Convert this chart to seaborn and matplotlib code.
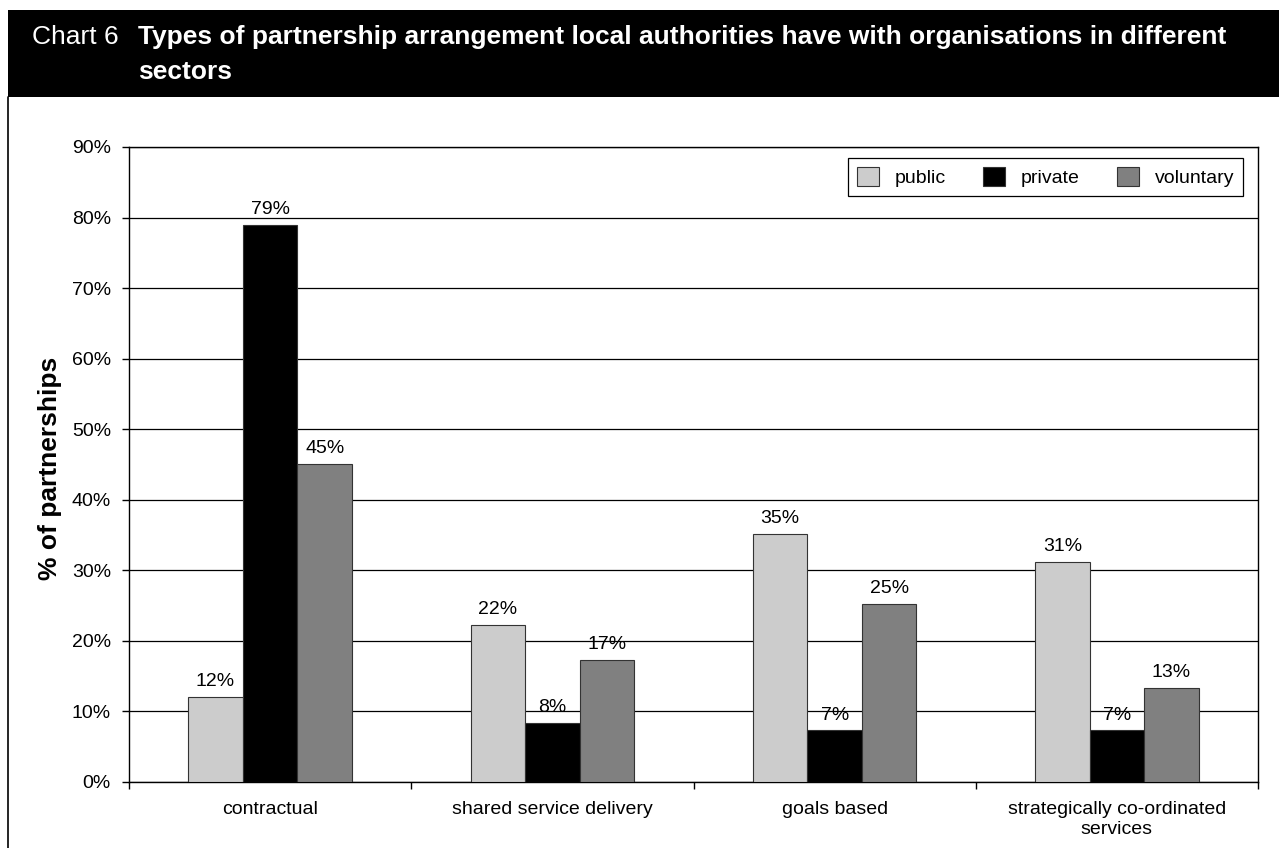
import matplotlib
matplotlib.use('Agg')
import matplotlib.pyplot as plt
import seaborn as sns
import pandas as pd
from matplotlib.patches import Rectangle, Patch
from matplotlib.lines import Line2D
from matplotlib.ticker import MultipleLocator, FixedLocator, PercentFormatter

categories = ['contractual', 'shared service delivery', 'goals based',
              'strategically co-ordinated\nservices']
sectors = ['public', 'private', 'voluntary']
public = [12.1, 22.3, 35.1, 31.2]
private = [79.0, 8.3, 7.3, 7.3]
voluntary = [45.1, 17.3, 25.2, 13.3]
colors = ['#cccccc', '#000000', '#808080']

rows = []
for s, vals in zip(sectors, [public, private, voluntary]):
    for c, v in zip(categories, vals):
        rows.append({'category': c, 'sector': s, 'value': v})
df = pd.DataFrame(rows)

sns.set_theme(style='white')
plt.rcParams['font.family'] = ['Liberation Sans', 'DejaVu Sans']

FS = 14

fig = plt.figure(figsize=(12.79, 8.48), dpi=100)
ax = fig.add_axes([129/1279, 66/848, 1129/1279, 635/848])

sns.barplot(data=df, x='category', y='value', hue='sector', order=categories,
            hue_order=sectors, palette=colors, width=0.58, edgecolor='#333333',
            linewidth=0.8, ax=ax, legend=False, zorder=3)

ax.set_ylim(0, 90)
ax.set_xlim(-0.5, len(categories) - 0.5)
ax.yaxis.set_major_locator(MultipleLocator(10))
ax.yaxis.set_major_formatter(PercentFormatter(decimals=0))
ax.grid(axis='y', color='black', linewidth=0.9, zorder=0)
ax.set_axisbelow(True)
for sp in ax.spines.values():
    sp.set_visible(True)
    sp.set_color('black')
    sp.set_linewidth(1.0)

ax.tick_params(axis='y', which='major', direction='out', length=5, width=1,
               color='black', labelsize=FS, pad=8, left=True, labelcolor='black')
ax.tick_params(axis='x', which='major', length=0, labelsize=FS, pad=14,
               labelcolor='black')
ax.xaxis.set_minor_locator(FixedLocator([-0.5, 0.5, 1.5, 2.5, 3.5]))
ax.tick_params(axis='x', which='minor', direction='out', length=5, width=1,
               color='black', bottom=True)
ax.set_xlabel('')
ax.set_ylabel('')
fig.text(50/1279, 1 - 468/848, '% of partnerships', rotation=90, fontsize=19,
         fontweight='bold', ha='center', va='center', color='black')

for cont, vals in zip(ax.containers, [public, private, voluntary]):
    ax.bar_label(cont, labels=[f"{round(v)}%" for v in vals], padding=5,
                 fontsize=FS, color='black')

handles = [Patch(facecolor=c, edgecolor='#333333', linewidth=0.8) for c in colors]
leg = ax.legend(handles, sectors, ncol=3, loc='upper right',
                bbox_to_anchor=(0.9867, 0.9827), borderaxespad=0,
                frameon=True, fancybox=False,
                edgecolor='black', fontsize=FS, handlelength=1.15,
                handleheight=1.15, columnspacing=1.9, handletextpad=0.8,
                borderpad=0.45, framealpha=1, labelcolor='black')
leg.get_frame().set_linewidth(0.9)

# Title banner
fig.patches.append(Rectangle((8/1279, 1 - 97/848), 1 - 8/1279, 87/848,
                             transform=fig.transFigure, facecolor='black',
                             edgecolor='none', zorder=0))
fig.lines.append(Line2D([8/1279, 8/1279], [0, 1 - 97/848],
                        transform=fig.transFigure, color='black', linewidth=1.2))
fig.text(32/1279, 1 - 37/848, 'Chart 6', color='white', fontsize=19,
         va='center', ha='left')
fig.text(138/1279, 1 - 37/848,
         'Types of partnership arrangement local authorities have with organisations in different',
         color='white', fontsize=19, fontweight='bold', va='center', ha='left')
fig.text(138/1279, 1 - 72/848, 'sectors', color='white', fontsize=19,
         fontweight='bold', va='center', ha='left')

fig.savefig('out.png', dpi=100)
